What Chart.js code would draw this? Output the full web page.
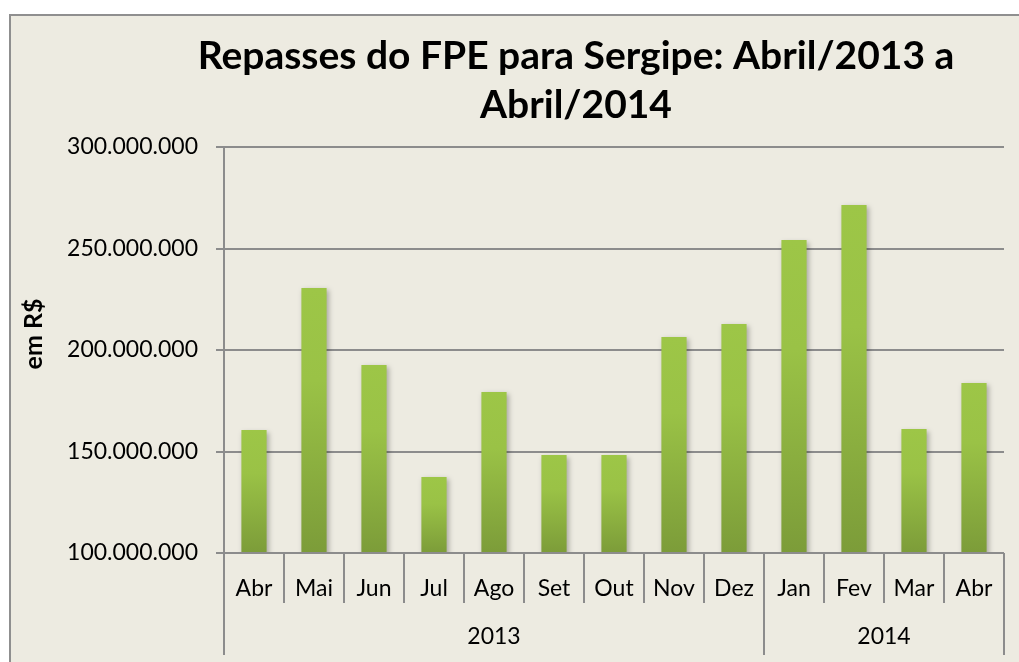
<!DOCTYPE html>
<html>
<head>
<meta charset="utf-8">
<script src="https://cdn.jsdelivr.net/npm/chart.js@4.4.1/dist/chart.umd.min.js"></script>
<style>
html,body{margin:0;padding:0;background:#ffffff;}
#wrap{width:1019px;height:662px;position:relative;}
</style>
</head>
<body>
<div id="wrap"><canvas id="c" width="1019" height="662"></canvas></div>
<script>
// ---- Data ----
const months = ['Abr','Mai','Jun','Jul','Ago','Set','Out','Nov','Dez','Jan','Fev','Mar','Abr'];
const years = ['2013','2014'];
const yearSpans = [9, 4]; // number of months belonging to each year
const repasses = [160600000, 230500000, 192600000, 137400000, 179300000, 148300000, 148300000,
                  206400000, 212800000, 254200000, 271400000, 161100000, 183700000];
const yTicks = [100000000, 150000000, 200000000, 250000000, 300000000];
const titleLines = ['Repasses do FPE para Sergipe: Abril/2013 a', 'Abril/2014'];
const yTitle = 'em R$';

const FONT = 'Lato, "Open Sans", sans-serif';
const GRID = '#8c8c8c';
const BG = '#edebe1';

function fmt(n){ return String(Math.round(n)).replace(/\B(?=(\d{3})+(?!\d))/g, '.'); }

const decor = {
  id: 'decor',
  beforeDraw(chart){
    const ctx = chart.ctx;
    ctx.save();
    ctx.fillStyle = '#ffffff';
    ctx.fillRect(0,0,chart.width,chart.height);
    ctx.fillStyle = BG;
    ctx.fillRect(9,14,chart.width,chart.height);
    ctx.strokeStyle = '#8f8f8f';
    ctx.lineWidth = 2;
    ctx.strokeRect(10,15,chart.width+10,chart.height+10);
    ctx.restore();
  },
  beforeDatasetsDraw(chart){
    const ctx = chart.ctx;
    ctx.save();
    ctx.shadowColor = 'rgba(0,0,0,0.28)';
    ctx.shadowBlur = 5;
    ctx.shadowOffsetX = 2;
    ctx.shadowOffsetY = 2;
  },
  afterDatasetsDraw(chart){
    chart.ctx.restore();
  },
  afterDraw(chart){
    const ctx = chart.ctx;
    const x = chart.scales.x;
    const area = chart.chartArea;
    ctx.save();
    // title
    ctx.fillStyle = '#000';
    ctx.font = 'bold 39px ' + FONT;
    ctx.textAlign = 'center';
    ctx.textBaseline = 'alphabetic';
    ctx.fillText(titleLines[0], 576, 69);
    ctx.fillText(titleLines[1], 576, 118);
    // y title
    ctx.save();
    ctx.translate(34, 334);
    ctx.rotate(-Math.PI/2);
    ctx.font = 'bold 25px ' + FONT;
    ctx.textBaseline = 'middle';
    ctx.fillText(yTitle, 0, 0);
    ctx.restore();
    // category separators
    ctx.strokeStyle = GRID;
    ctx.lineWidth = 2;
    const n = months.length;
    const step = (x.getPixelForValue(1) - x.getPixelForValue(0));
    const yearBounds = new Set();
    let acc = 0; yearBounds.add(0);
    yearSpans.forEach(s => { acc += s; yearBounds.add(acc); });
    for (let i = 0; i <= n; i++) {
      const px = Math.round(x.getPixelForValue(i) - step/2);
      const bottom = yearBounds.has(i) ? 655 : 603;
      ctx.beginPath();
      ctx.moveTo(px, area.bottom);
      ctx.lineTo(px, bottom);
      ctx.stroke();
    }
    // year labels
    ctx.font = '23px ' + FONT;
    ctx.textBaseline = 'middle';
    let start = 0;
    years.forEach((yr, k) => {
      const end = start + yearSpans[k] - 1;
      const cx = (x.getPixelForValue(start) + x.getPixelForValue(end)) / 2;
      ctx.fillText(yr, cx, 637);
      start += yearSpans[k];
    });
    // bottom axis line extending left with tick
    ctx.beginPath();
    ctx.moveTo(area.left - 8, area.bottom);
    ctx.lineTo(area.right, area.bottom);
    ctx.stroke();
    ctx.restore();
  }
};

const ctx = document.getElementById('c').getContext('2d');
new Chart(ctx, {
  type: 'bar',
  data: {
    labels: months,
    datasets: [{
      data: repasses,
      barPercentage: 0.42,
      categoryPercentage: 1.0,
      borderWidth: 0,
      backgroundColor: (c) => {
        const chart = c.chart;
        const ys = chart.scales && chart.scales.y;
        if (!ys || c.dataIndex === undefined || c.type !== 'data') return '#8db342';
        const top = ys.getPixelForValue(c.raw);
        const base = ys.getPixelForValue(ys.min);
        if (!isFinite(top) || !isFinite(base) || base - top < 1) return '#8db342';
        const g = chart.ctx.createLinearGradient(0, top, 0, base);
        g.addColorStop(0, '#9dc647');
        g.addColorStop(0.35, '#9ac246');
        g.addColorStop(1, '#7c9c39');
        return g;
      }
    }]
  },
  options: {
    responsive: false,
    animation: false,
    devicePixelRatio: 1,
    layout: { padding: { top: 147, right: 15, left: 0, bottom: 0 } },
    plugins: { legend: { display: false }, title: { display: false }, tooltip: { enabled: false } },
    scales: {
      x: {
        grid: { display: false, drawTicks: false },
        border: { display: false },
        ticks: { color: '#000', font: { family: FONT, size: 23 }, padding: 22, maxRotation: 0, autoSkip: false },
        afterFit: (s) => { s.height = 109; }
      },
      y: {
        min: 100000000, max: 300000000,
        afterBuildTicks: (s) => { s.ticks = yTicks.map(v => ({ value: v })); },
        grid: { color: GRID, lineWidth: 2, tickLength: 8, drawTicks: true },
        border: { display: true, color: GRID, width: 2 },
        ticks: { color: '#000', font: { family: FONT, size: 23 }, padding: 18, callback: (v) => fmt(v) },
        afterFit: (s) => { s.width = 224; }
      }
    }
  },
  plugins: [decor]
});
</script>
</body>
</html>
